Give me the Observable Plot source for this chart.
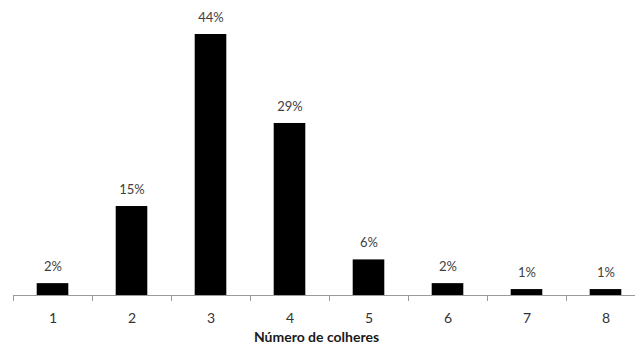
<!DOCTYPE html>
<html>
<head>
<meta charset="utf-8">
<script src="https://cdn.jsdelivr.net/npm/d3@7"></script>
<script src="https://cdn.jsdelivr.net/npm/@observablehq/plot@0.6"></script>
<style>
  html, body { margin: 0; padding: 0; background: #fff; }
  svg { display: block; }
</style>
</head>
<body>
<div id="chart"></div>
<script>
const categories = [1, 2, 3, 4, 5, 6, 7, 8];
const percents = [2, 15, 44, 29, 6, 2, 1, 1];
const boundaries = [0.5, 1.5, 2.5, 3.5, 4.5, 5.5, 6.5, 7.5];
const xTitle = "Número de colheres";

const data = categories.map((c, i) => ({c, v: percents[i]}));
const halfBar = 0.2;

const chart = Plot.plot({
  width: 635,
  height: 353,
  marginTop: 34,
  marginBottom: 58,
  marginLeft: 13,
  marginRight: 0,
  style: {fontFamily: "Lato, 'Open Sans', sans-serif", background: "#fff"},
  x: {type: "linear", domain: [0.5, 8.5], range: [13, 645], axis: null, label: null},
  y: {domain: [0, 44], axis: null, label: null},
  marks: [
    Plot.rectY(data, {x1: d => d.c - halfBar, x2: d => d.c + halfBar, y1: 0, y2: "v", fill: "#000"}),
    Plot.ruleY([0], {stroke: "#9a9a9a", strokeWidth: 1}),
    Plot.axisX(boundaries, {tickSize: 6, tickFormat: () => "", stroke: "#9a9a9a", label: null}),
    Plot.axisX(categories, {tickSize: 0, tickPadding: 18, fontSize: 14, fill: "#333", tickFormat: d => String(d), label: null}),
    Plot.text(data, {x: "c", y: "v", text: d => d.v + "%", dy: -17, fontSize: 13, fill: "#404040"}),
    Plot.text([xTitle], {frameAnchor: "bottom", dy: 46, dx: -8, text: d => d, fontSize: 14, fontWeight: "bold", fill: "#1a1a1a"})
  ]
});
document.getElementById("chart").appendChild(chart);
</script>
</body>
</html>
